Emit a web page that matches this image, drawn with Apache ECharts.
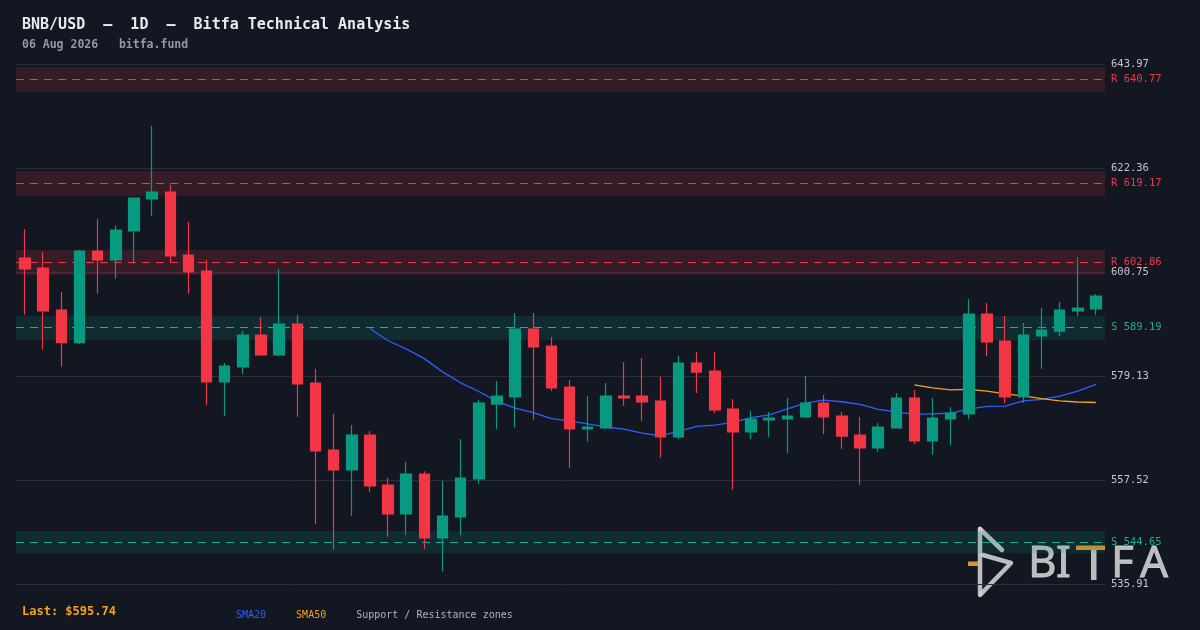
<!DOCTYPE html>
<html><head><meta charset="utf-8">
<script src="https://cdn.jsdelivr.net/npm/echarts@6/dist/echarts.min.js"></script>
<style>html,body{margin:0;padding:0;background:#131722;}#c{width:1200px;height:630px;}</style>
</head><body><div id="c"></div>
<script>
// ---- data ----
const dates = ['Jun 08','Jun 09','Jun 10','Jun 11','Jun 12','Jun 13','Jun 14','Jun 15','Jun 16','Jun 17','Jun 18','Jun 19','Jun 20','Jun 21','Jun 22','Jun 23','Jun 24','Jun 25','Jun 26','Jun 27','Jun 28','Jun 29','Jun 30',
 'Jul 01','Jul 02','Jul 03','Jul 04','Jul 05','Jul 06','Jul 07','Jul 08','Jul 09','Jul 10','Jul 11','Jul 12','Jul 13','Jul 14','Jul 15','Jul 16','Jul 17','Jul 18','Jul 19','Jul 20','Jul 21','Jul 22','Jul 23','Jul 24','Jul 25','Jul 26','Jul 27','Jul 28','Jul 29','Jul 30','Jul 31',
 'Aug 01','Aug 02','Aug 03','Aug 04','Aug 05','Aug 06'];
const opens  = [603.65,601.58,592.85,586.05,605.11,603.24,609.27,615.92,617.37,604.28,600.95,577.89,581.00,587.65,583.50,589.94,577.68,563.76,559.60,566.87,556.48,550.46,558.77,545.47,549.83,557.73,573.31,574.77,588.90,585.37,576.85,568.12,568.33,574.98,574.98,573.94,566.46,581.83,580.17,572.28,567.50,569.99,570.20,570.61,573.52,570.82,566.87,564.17,568.33,574.56,565.63,570.20,571.24,592.02,586.41,574.77,587.45,588.48,592.64,593.06];
const closes = [601.37,592.64,586.05,605.11,603.24,609.47,616.12,617.37,604.07,600.75,577.89,581.21,587.65,583.50,589.94,577.47,563.55,559.60,566.87,556.27,550.46,558.77,545.47,550.04,557.94,573.52,574.98,588.90,585.16,576.64,568.12,568.54,574.98,574.56,573.73,566.46,581.83,579.96,572.07,567.50,570.20,570.41,570.82,573.52,570.61,566.66,564.17,568.54,574.56,565.63,570.41,571.44,592.02,586.20,574.77,587.65,588.69,592.85,593.26,595.74];
const highs  = [609.68,604.90,596.59,605.30,611.76,610.45,616.27,631.09,618.82,611.14,603.24,581.83,588.48,591.39,601.37,591.81,580.59,571.24,568.95,567.70,557.94,561.26,559.33,557.31,566.04,574.15,578.09,592.23,592.23,587.24,578.30,574.98,577.68,582.04,582.87,578.93,583.29,584.12,584.12,574.35,571.86,571.65,574.56,579.13,575.18,571.65,570.61,569.37,575.60,576.22,574.56,572.69,595.13,594.30,591.60,590.15,593.26,594.51,603.86,596.17];
const lows   = [591.87,584.60,581.07,585.80,596.24,599.35,602.47,612.38,602.76,596.24,573.11,570.82,579.55,583.50,583.30,570.68,548.38,543.04,550.04,555.03,545.74,546.09,543.18,538.47,546.09,556.69,568.12,568.39,570.05,576.02,560.08,565.48,568.00,572.90,569.78,562.16,566.04,575.60,571.44,555.50,566.04,566.46,563.13,570.40,567.08,563.96,556.55,563.34,568.20,565.00,562.78,564.79,570.20,583.29,573.52,573.52,580.59,587.45,591.60,591.81];
const sma20 = [null,null,null,null,null,null,null,null,null,null,null,null,null,null,null,null,null,null,null,
 589.01,586.46,584.77,582.74,579.99,577.72,575.92,573.87,572.44,571.50,570.29,569.80,569.17,568.54,568.09,567.28,566.73,567.64,568.66,568.92,569.48,570.47,571.05,572.32,573.49,574.13,573.78,573.24,572.22,571.69,571.14,571.26,571.40,572.26,572.84,572.89,573.95,574.29,574.94,576.00,577.41];
const sma50 = [null,null,null,null,null,null,null,null,null,null,null,null,null,null,null,null,null,null,null,null,null,null,null,null,null,
 null,null,null,null,null,null,null,null,null,null,null,null,null,null,null,null,null,null,null,null,null,null,null,null,
 577.30,576.68,576.25,576.37,576.00,575.43,574.99,574.44,573.95,573.73,573.63];
const zoneLevels = [640.77, 619.17, 602.86, 589.19, 544.65];
const zoneKinds  = ['R','R','R','S','S'];
const zoneLow    = [638.20, 616.60, 600.10, 586.60, 542.30];
const zoneHigh   = [643.30, 621.70, 605.30, 591.60, 546.90];
const yMin = 535.91, yMax = 643.97;
const lastPrice = 595.74;

// ---- chart ----
const UP = '#089981', DOWN = '#f23645', BG = '#131722';
const MONO = '"DejaVu Sans Mono", "Liberation Mono", monospace';
const LOGO = '#cfcfcf';
const candleData = opens.map((o, i) => [o, closes[i], lows[i], highs[i]]);

const zoneAreas = zoneLevels.map((v, i) => [
  { yAxis: zoneLow[i], itemStyle: { color: zoneKinds[i] === 'R' ? 'rgba(242,54,69,0.16)' : 'rgba(8,153,129,0.16)' } },
  { yAxis: zoneHigh[i] }
]);
const zoneLines = zoneLevels.map((v, i) => ({
  yAxis: v,
  lineStyle: { color: zoneKinds[i] === 'R' ? '#f23645' : '#22ab94', type: [8, 6], width: 1.2, opacity: 1 },
  label: { formatter: zoneKinds[i] + ' ' + v.toFixed(2), color: zoneKinds[i] === 'R' ? '#f23645' : '#22ab94' }
}));

const chart = echarts.init(document.getElementById('c'), null, { renderer: 'canvas' });
chart.setOption({
  backgroundColor: BG,
  animation: false,
  grid: { left: 16, right: 95, top: 64, bottom: 46 },
  legend: {
    left: 231, top: 609, padding: 0, itemWidth: 0, itemHeight: 12, itemGap: 25, icon: 'rect',
    selectedMode: false,
    textStyle: { fontFamily: MONO, fontSize: 10 },
    data: [
      { name: 'SMA20', textStyle: { color: '#2962ff' } },
      { name: 'SMA50', textStyle: { color: '#f7a21b' } },
      { name: 'Support / Resistance zones', textStyle: { color: '#b2b5be' } }
    ]
  },
  xAxis: {
    type: 'category', data: dates, boundaryGap: true,
    axisLine: { show: false }, axisTick: { show: false }, axisLabel: { show: false }, splitLine: { show: false }
  },
  yAxis: {
    type: 'value', position: 'right', scale: true,
    min: yMin, max: yMax, interval: (yMax - yMin) / 5,
    axisLine: { show: false }, axisTick: { show: false },
    axisLabel: { color: '#c3c6ce', fontFamily: MONO, fontSize: 10.5, margin: 6, formatter: v => v.toFixed(2) },
    splitLine: { lineStyle: { color: '#2a2e39', width: 1 } }
  },
  series: [
    {
      name: 'Support / Resistance zones', type: 'line', data: [], z: 1, silent: true,
      itemStyle: { color: '#b2b5be' },
      markArea: { silent: true, data: zoneAreas },
      markLine: {
        silent: true, symbol: ['none', 'none'],
        label: { position: 'end', distance: 6, fontFamily: MONO, fontSize: 10.5 },
        data: zoneLines
      }
    },
    {
      name: 'SMA20', type: 'line', data: sma20, z: 3, symbol: 'none', smooth: false,
      lineStyle: { color: '#2962ff', width: 1.3 }, itemStyle: { color: '#2962ff' }
    },
    {
      name: 'SMA50', type: 'line', data: sma50, z: 3, symbol: 'none', smooth: false,
      lineStyle: { color: '#f7a21b', width: 1.3 }, itemStyle: { color: '#f7a21b' }
    },
    {
      name: 'BNB/USD', type: 'candlestick', data: candleData, z: 5, barWidth: 11,
      itemStyle: { color: UP, color0: DOWN, borderColor: UP, borderColor0: DOWN, borderWidth: 1.2 }
    }
  ],
  graphic: [
    { type: 'text', left: 22, top: 18, z: 10, style: { text: 'BNB/USD  \u2013  1D  \u2013  Bitfa Technical Analysis', font: 'bold 15px ' + MONO, fill: '#e8eaed' } },
    { type: 'text', left: 22, top: 39, z: 10, style: { text: '06 Aug 2026   bitfa.fund', font: 'bold 11.5px ' + MONO, fill: '#9598a1' } },
    { type: 'text', left: 22, top: 606, z: 10, style: { text: 'Last: $' + lastPrice.toFixed(2), font: 'bold 12px ' + MONO, fill: '#f7a21b' } },
    // BITFA watermark logo
    { type: 'group', z: 20, silent: true, children: [
      { type: 'line', shape: { x1: 980, y1: 529, x2: 980, y2: 595 }, style: { stroke: LOGO, lineWidth: 4.5, lineCap: 'round', opacity: 0.9 } },
      { type: 'line', shape: { x1: 980, y1: 529, x2: 1002, y2: 550 }, style: { stroke: LOGO, lineWidth: 4.5, lineCap: 'round', opacity: 0.9 } },
      { type: 'polyline', shape: { points: [[983, 555], [1011, 563], [981, 594]] }, style: { stroke: LOGO, lineWidth: 4.5, lineCap: 'round', lineJoin: 'round', fill: null, opacity: 0.9 } },
      { type: 'rect', shape: { x: 968, y: 561.5, width: 10, height: 4.5 }, style: { fill: '#e0922a' } },
      { type: 'text', style: { text: 'B', x: 1028, y: 564, font: '44px "Noto Sans"', fill: LOGO, stroke: LOGO, lineWidth: 0.8, verticalAlign: 'middle', opacity: 0.9 } },
      { type: 'text', style: { text: 'I', x: 1056, y: 564, font: '44px "Noto Sans"', fill: LOGO, stroke: LOGO, lineWidth: 0.8, verticalAlign: 'middle', opacity: 0.9 } },
      { type: 'rect', shape: { x: 1091, y: 550, width: 5.5, height: 30 }, style: { fill: LOGO, opacity: 0.9 } },
      { type: 'rect', shape: { x: 1076, y: 545.5, width: 29, height: 4.5 }, style: { fill: '#e0922a' } },
      { type: 'text', style: { text: 'F', x: 1111, y: 564, font: '44px "Noto Sans"', fill: LOGO, stroke: LOGO, lineWidth: 0.8, verticalAlign: 'middle', opacity: 0.9 } },
      { type: 'text', style: { text: 'A', x: 1140, y: 564, font: '44px "Noto Sans"', fill: LOGO, stroke: LOGO, lineWidth: 0.8, verticalAlign: 'middle', opacity: 0.9 } }
    ] }
  ]
});
</script>
</body></html>
